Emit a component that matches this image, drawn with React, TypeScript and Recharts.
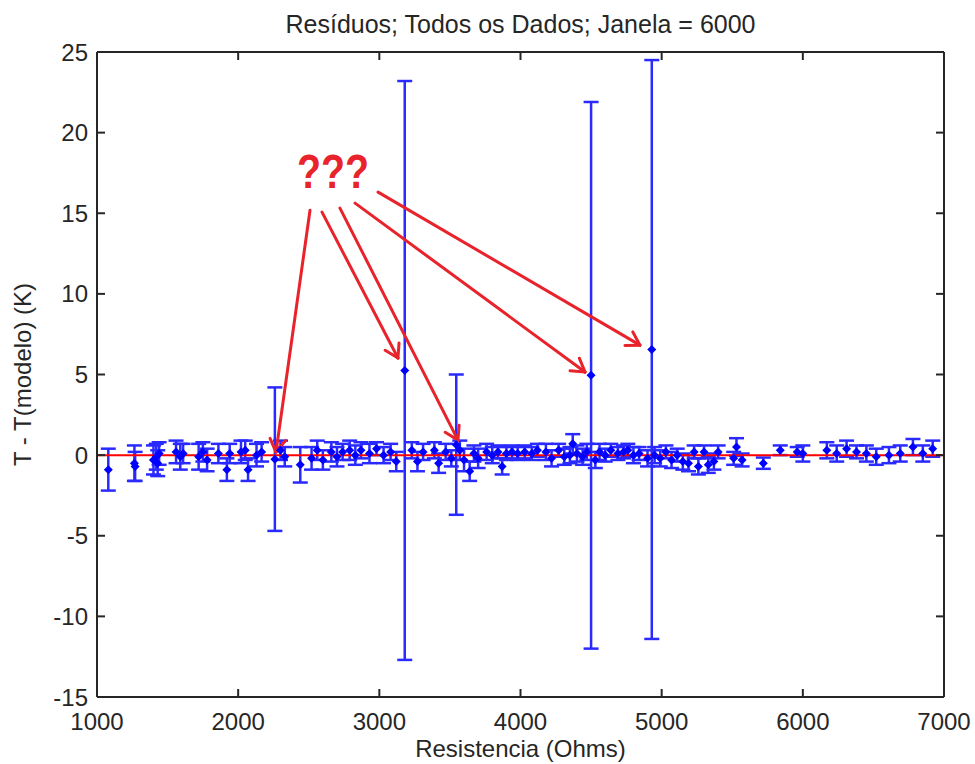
import {
  ScatterChart,
  Scatter,
  XAxis,
  YAxis,
  ErrorBar,
  ReferenceLine,
  ReferenceDot,
} from "recharts";

// Resistência (Ohms), resíduo (K) e incerteza (K) de cada medida
const resistance = [
  1080, 1265, 1270, 1400, 1420, 1430, 1440, 1560, 1590, 1610, 1720, 1750, 1780, 1860, 1920, 1940,
  2020, 2050, 2070, 2130, 2166, 2260, 2300, 2330, 2440, 2520, 2560, 2600, 2660, 2700, 2740, 2790,
  2830, 2870, 2930, 2980, 3030, 3080, 3120, 3180, 3230, 3270, 3310, 3390, 3420, 3470, 3510, 3545,
  3570, 3600, 3640, 3670, 3700, 3760, 3800, 3840, 3870, 3900, 3940, 3980, 4030, 4080, 4120, 4180,
  4220, 4270, 4310, 4350, 4370, 4400, 4440, 4470, 4500, 4530, 4560, 4600, 4640, 4690, 4730, 4760,
  4800, 4840, 4900, 4930, 4950, 4990, 5030, 5070, 5110, 5150, 5190, 5230, 5260, 5300, 5330, 5370,
  5400, 5510, 5530, 5570, 5720, 5840, 5960, 6000, 6170, 6240, 6310, 6380, 6450, 6520, 6610, 6690,
  6780, 6850, 6920,
];
const residual = [
  -0.9, -0.5, -0.7, -0.3, -0.1, -0.5, 0.1, 0.2, -0.1, 0.1, -0.1, 0.2, -0.3, 0.1, -0.9, 0.1,
  0.2, 0.3, -0.9, 0.0, 0.2, -0.25, 0.3, -0.1, -0.6, -0.2, 0.3, -0.3, 0.2, -0.1, 0.2, 0.3,
  0.0, 0.3, 0.1, 0.4, 0.0, 0.2, -0.4, 5.25, 0.3, -0.4, 0.2, 0.3, -0.5, 0.2, -0.2, 0.65,
  0.3, -0.3, -1.0, 0.1, -0.2, 0.2, 0.0, 0.2, -0.7, 0.1, 0.2, 0.1, 0.2, 0.1, 0.3, 0.2,
  -0.2, 0.3, -0.1, 0.0, 0.7, 0.1, -0.1, 0.2, 4.95, -0.3, 0.2, 0.0, 0.3, 0.1, 0.2, 0.3,
  0.0, 0.1, -0.2, 6.55, 0.0, -0.2, 0.2, -0.3, 0.0, -0.4, -0.5, 0.2, -0.7, 0.2, -0.6, -0.4,
  0.2, -0.2, 0.5, -0.3, -0.5, 0.3, 0.2, 0.1, 0.3, 0.1, 0.4, 0.2, 0.1, -0.1, 0.0, 0.1,
  0.5, 0.1, 0.4,
];
const uncertainty = [
  1.3, 1.1, 0.9, 0.9, 0.8, 0.8, 0.7, 0.7, 0.8, 0.6, 0.8, 0.6, 0.7, 0.6, 0.7, 0.6,
  0.7, 0.6, 0.7, 0.7, 0.6, 4.45, 0.6, 0.6, 1.1, 0.7, 0.6, 0.6, 0.6, 0.6, 0.5, 0.6,
  0.6, 0.5, 0.6, 0.4, 0.5, 0.5, 0.6, 17.95, 0.5, 0.6, 0.5, 0.5, 0.6, 0.5, 0.5, 4.35,
  0.6, 0.7, 0.6, 0.5, 0.6, 0.5, 0.5, 0.4, 0.5, 0.4, 0.4, 0.4, 0.4, 0.4, 0.4, 0.5,
  0.5, 0.4, 0.5, 0.5, 0.6, 0.5, 0.5, 0.5, 16.95, 0.5, 0.5, 0.4, 0.4, 0.4, 0.4, 0.4,
  0.5, 0.4, 0.5, 17.95, 0.5, 0.5, 0.4, 0.5, 0.4, 0.5, 0.5, 0.4, 0.5, 0.4, 0.5, 0.5,
  0.4, 0.4, 0.55, 0.4, 0.35, 0.3, 0.3, 0.5, 0.5, 0.5, 0.5, 0.4, 0.5, 0.5, 0.5, 0.5,
  0.5, 0.5, 0.5,
];

const xTicks = [1000, 2000, 3000, 4000, 5000, 6000, 7000];
const yTicks = [-15, -10, -5, 0, 5, 10, 15, 20, 25];

// anotação "???" e setas (em unidades dos eixos)
const arrowFrom = [
  { x: 2509, y: 15.19 },
  { x: 2594, y: 15.07 },
  { x: 2721, y: 15.32 },
  { x: 2828, y: 15.63 },
  { x: 2991, y: 16.31 },
];
const arrowTo = [
  { x: 2268, y: 0.19 },
  { x: 3132, y: 6.02 },
  { x: 3557, y: 0.93 },
  { x: 4457, y: 5.15 },
  { x: 4846, y: 6.82 },
];
const notePos = { x: 2672, y: 16.56 };

const data = resistance.map((r, i) => ({ r, res: residual[i], err: uncertainty[i] }));

const FONT = "'Liberation Sans', Arial, sans-serif";
const INK = "#262626";
const NOTE_RED = "#e8232b";

const Diamond = (props: any) => {
  const { cx, cy } = props;
  const s = 4.5;
  return (
    <polygon
      points={`${cx},${cy - s} ${cx + s},${cy} ${cx},${cy + s} ${cx - s},${cy}`}
      fill="#0000ff"
    />
  );
};

const Arrow = (props: any) => {
  const { x1, y1, x2, y2 } = props;
  const a = Math.atan2(y2 - y1, x2 - x1);
  const len = 15;
  const spread = 0.55;
  const hx1 = x2 - len * Math.cos(a - spread);
  const hy1 = y2 - len * Math.sin(a - spread);
  const hx2 = x2 - len * Math.cos(a + spread);
  const hy2 = y2 - len * Math.sin(a + spread);
  return (
    <g stroke={NOTE_RED} strokeWidth={3} strokeLinecap="round" fill="none">
      <line x1={x1} y1={y1} x2={x2} y2={y2} />
      <line x1={hx1} y1={hy1} x2={x2} y2={y2} />
      <line x1={hx2} y1={hy2} x2={x2} y2={y2} />
    </g>
  );
};

const Note = (props: any) => (
  <text
    x={props.cx}
    y={props.cy}
    textAnchor="middle"
    fontFamily={FONT}
    fontSize={48}
    fontWeight="bold"
    fill={NOTE_RED}
    textLength={72}
    lengthAdjust="spacingAndGlyphs"
  >
    ???
  </text>
);

export default function App() {
  return (
    <div style={{ position: "relative", width: 975, height: 764, background: "#fff", fontFamily: FONT }}>
      <style>{"body{margin:0}"}</style>
      <div
        style={{
          position: "absolute",
          top: 12,
          left: 97,
          width: 847,
          textAlign: "center",
          fontSize: 25,
          lineHeight: "24px",
          color: INK,
        }}
      >
        Resíduos; Todos os Dados; Janela = 6000
      </div>
      <ScatterChart
        width={975}
        height={764}
        margin={{ top: 51, right: 30, bottom: 0, left: 0 }}
        style={{ fontFamily: FONT }}
      >
        <XAxis
          dataKey="r"
          type="number"
          domain={[1000, 7000]}
          ticks={xTicks}
          height={67}
          tickSize={-8}
          tickMargin={24}
          stroke={INK}
          strokeWidth={2}
          tick={{ fill: INK, fontSize: 24 }}
          label={{
            value: "Resistencia (Ohms)",
            position: "insideBottom",
            offset: 7,
            fill: INK,
            fontSize: 24,
          }}
        />
        <XAxis
          xAxisId="top"
          dataKey="r"
          orientation="top"
          type="number"
          domain={[1000, 7000]}
          ticks={xTicks}
          height={1}
          tickSize={-8}
          tickFormatter={() => ""}
          stroke={INK}
          strokeWidth={2}
        />
        <YAxis
          dataKey="res"
          type="number"
          domain={[-15, 25]}
          ticks={yTicks}
          width={97}
          tickSize={-8}
          tickMargin={17}
          stroke={INK}
          strokeWidth={2}
          tick={{ fill: INK, fontSize: 24 }}
          label={{
            value: "T - T(modelo) (K)",
            angle: -90,
            position: "insideLeft",
            offset: 22,
            textAnchor: "middle",
            style: { textAnchor: "middle" },
            fill: INK,
            fontSize: 24,
          }}
        />
        <YAxis
          yAxisId="right"
          dataKey="res"
          orientation="right"
          type="number"
          domain={[-15, 25]}
          ticks={yTicks}
          width={1}
          tickSize={-8}
          tickFormatter={() => ""}
          stroke={INK}
          strokeWidth={2}
        />
        <Scatter data={data} shape={Diamond} isAnimationActive={false}>
          <ErrorBar
            dataKey="err"
            direction="y"
            width={7.5}
            stroke="#2a2aff"
            strokeWidth={2.5}
            isAnimationActive={false}
          />
        </Scatter>
        {/* série invisível só para manter os eixos de cima e da direita (moldura) */}
        <Scatter
          data={data}
          xAxisId="top"
          yAxisId="right"
          shape={() => <g />}
          isAnimationActive={false}
        />
        <ReferenceLine y={0} stroke="#ff0000" strokeWidth={2} />
        {arrowFrom.map((p, i) => (
          <ReferenceLine key={i} segment={[p, arrowTo[i]]} shape={Arrow} />
        ))}
        <ReferenceDot x={notePos.x} y={notePos.y} shape={Note} />
      </ScatterChart>
    </div>
  );
}
